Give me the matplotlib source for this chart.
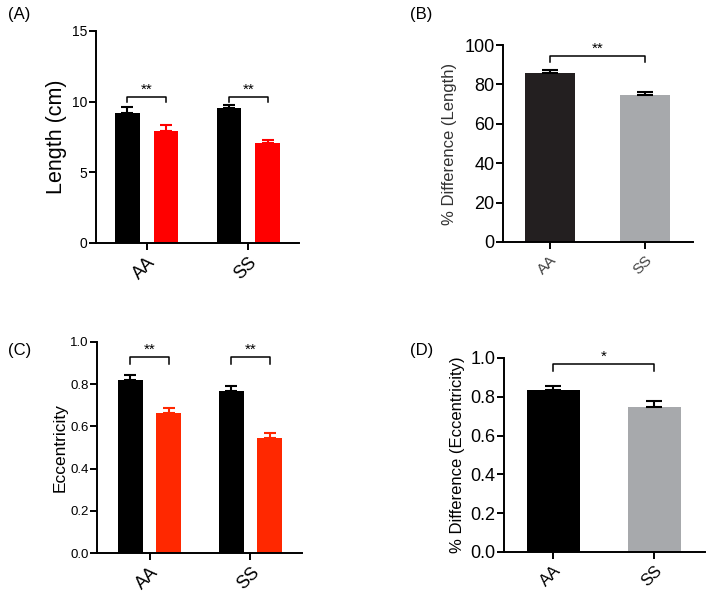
import numpy as np
import matplotlib
matplotlib.use("Agg")
import matplotlib.pyplot as plt

plt.rcParams["font.family"] = ["Liberation Sans", "DejaVu Sans"]

W, H = 714, 596

groups = ["AA", "SS"]

# (A) length, control (black) vs treated (red)
len_ctrl = [9.22, 9.53]
len_ctrl_err = [0.38, 0.24]
len_trt = [7.93, 7.10]
len_trt_err = [0.42, 0.19]

# (B) % difference in length
pct_len = [85.6, 74.4]
pct_len_err = [1.7, 1.9]

# (C) eccentricity
ecc_ctrl = [0.818, 0.766]
ecc_ctrl_err = [0.026, 0.024]
ecc_trt = [0.665, 0.543]
ecc_trt_err = [0.024, 0.027]

# (D) % difference in eccentricity
pct_ecc = [0.835, 0.745]
pct_ecc_err = [0.020, 0.034]


def px_axes(fig, l, t, r, b):
    return fig.add_axes([l / W, 1 - b / H, (r - l) / W, (b - t) / H])


def style(ax, ytick_size, xtick_size, xtick_color="black"):
    for s in ["top", "right"]:
        ax.spines[s].set_visible(False)
    for s in ["left", "bottom"]:
        ax.spines[s].set_linewidth(1.4)
    ax.tick_params(axis="both", direction="out", width=1.4, length=5)
    ax.tick_params(axis="y", labelsize=ytick_size, pad=1)
    ax.set_xticks(range(len(groups)))
    ax.set_xticklabels(groups, rotation=45, ha="right", rotation_mode="anchor",
                       fontsize=xtick_size, color=xtick_color)
    ax.tick_params(axis="x", pad=3)


def bracket(ax, x1, x2, y_top, drop, label, fs):
    ax.plot([x1, x1, x2, x2], [y_top - drop, y_top, y_top, y_top - drop],
            color="black", lw=1.1, clip_on=False)
    ax.text((x1 + x2) / 2, y_top, label, ha="center", va="bottom",
            fontsize=fs, clip_on=False)


def grouped(ax, ctrl, ctrl_err, trt, trt_err, red, cap):
    x = np.arange(len(groups))
    off, w = 0.19, 0.245
    ax.bar(x - off, ctrl, w, color="black")
    ax.bar(x + off, trt, w, color=red)
    ax.errorbar(x - off, ctrl, yerr=[np.zeros(2), ctrl_err], fmt="none",
                ecolor="black", elinewidth=1.5, capsize=cap, capthick=1.5)
    ax.errorbar(x + off, trt, yerr=[np.zeros(2), trt_err], fmt="none",
                ecolor=red, elinewidth=1.5, capsize=cap, capthick=1.5)
    return x, off


def single(ax, vals, errs, colors, cap):
    x = np.arange(len(groups))
    ax.bar(x, vals, 0.52, color=colors)
    ax.errorbar(x, vals, yerr=[np.zeros(2), errs], fmt="none",
                ecolor="black", elinewidth=1.5, capsize=cap, capthick=1.5)
    return x


fig = plt.figure(figsize=(W / 100, H / 100), dpi=100)

# (A)
ax = px_axes(fig, 96, 31, 299, 243)
x, off = grouped(ax, len_ctrl, len_ctrl_err, len_trt, len_trt_err, "#ff0000", 4.5)
ax.set_xlim(-0.5, 1.5)
ax.set_ylim(0, 15)
ax.set_yticks([0, 5, 10, 15])
style(ax, 10, 13)
ax.set_ylabel("Length (cm)", fontsize=15.5, labelpad=4)
for i in range(2):
    bracket(ax, x[i] - off, x[i] + off, 10.36, 0.4, "**", 11)

# (B)
ax = px_axes(fig, 503, 45, 693, 242)
single(ax, pct_len, pct_len_err, ["#231f20", "#a7a9ac"], 5.5)
ax.set_xlim(-0.49, 1.5)
ax.set_ylim(0, 100)
ax.set_yticks(np.arange(0, 101, 20))
style(ax, 13, 11, "#444444")
ax.set_ylabel("% Difference (Length)", fontsize=12, color="#333333", labelpad=5)
bracket(ax, 0, 1, 94.4, 3.2, "**", 11)

# (C)
ax = px_axes(fig, 97, 342, 302, 553)
x, off = grouped(ax, ecc_ctrl, ecc_ctrl_err, ecc_trt, ecc_trt_err, "#ff2800", 4.5)
ax.set_xlim(-0.52, 1.51)
ax.set_ylim(0, 1)
ax.set_yticks(np.arange(0, 1.01, 0.2))
ax.set_yticklabels([f"{v:.1f}" for v in np.arange(0, 1.01, 0.2)])
style(ax, 9.5, 13)
ax.set_ylabel("Eccentricity", fontsize=12.5, labelpad=2)
for i in range(2):
    bracket(ax, x[i] - off, x[i] + off, 0.929, 0.032, "**", 11)

# (D)
ax = px_axes(fig, 504, 358, 705, 552)
single(ax, pct_ecc, pct_ecc_err, ["black", "#a7a9ac"], 5.5)
ax.set_xlim(-0.49, 1.5)
ax.set_ylim(0, 1)
ax.set_yticks(np.arange(0, 1.01, 0.2))
ax.set_yticklabels([f"{v:.1f}" for v in np.arange(0, 1.01, 0.2)])
style(ax, 13, 12)
ax.set_ylabel("% Difference (Eccentricity)", fontsize=12, labelpad=4)
bracket(ax, 0, 1, 0.971, 0.039, "*", 11)

# panel letters
for lbl, px, py in [("(A)", 8, 15), ("(B)", 410, 15), ("(C)", 8, 350), ("(D)", 410, 350)]:
    fig.text(px / W, 1 - py / H, lbl, fontsize=12, va="center", ha="left")

fig.savefig("out.png", dpi=100)
